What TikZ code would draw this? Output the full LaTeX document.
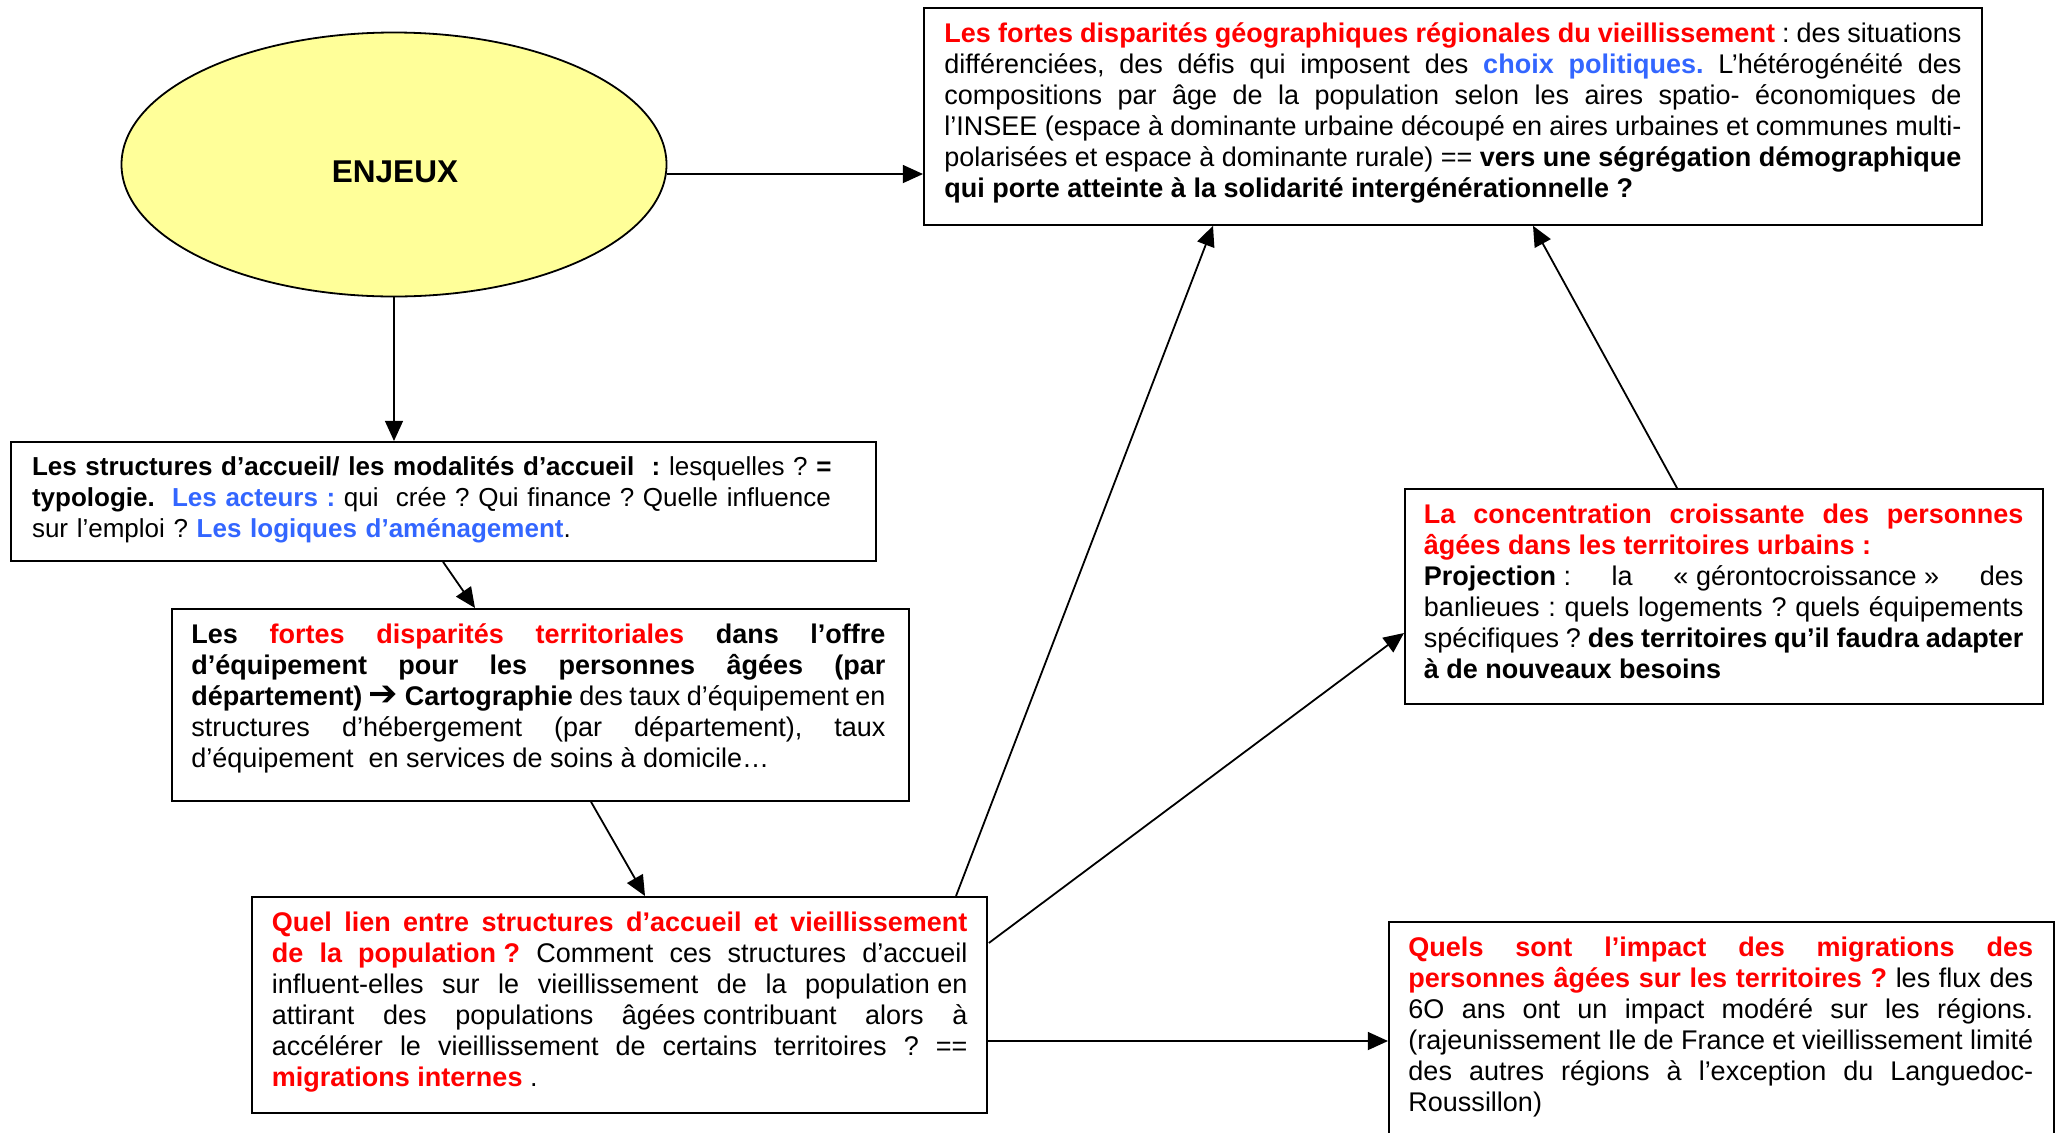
\documentclass[tikz,border=0pt]{standalone}
\usepackage{fontspec}
\setmainfont{Liberation Sans}
\newfontfamily\dejavu{DejaVu Sans}
\usetikzlibrary{shapes.geometric,arrows.meta,calc}
\newcommand\pxu{0.4444pt}
\definecolor{myred}{RGB}{255,0,0}
\definecolor{myblue}{RGB}{51,102,255}
\definecolor{elly}{RGB}{255,255,153}
\newcommand\rb[1]{\textcolor{myred}{\textbf{#1}}}
\newcommand\bb[1]{\textcolor{myblue}{\textbf{#1}}}
\newcommand\nbs{\kern0.278em}
\frenchspacing
\tikzset{
  boxnode/.style={draw, line width=0.8pt, rectangle, inner sep=0pt, anchor=north west},
  txt/.style={anchor=base west, inner sep=0pt, align=justify,
    font=\fontsize{12pt}{13.8pt}\selectfont,
    execute at begin node={\frenchspacing\tolerance=10000\hyphenpenalty=10000\exhyphenpenalty=10000}},
  txtl/.style={txt, align=left, font=\fontsize{11.55pt}{13.8pt}\selectfont},
  arr/.style={line width=0.8pt, -{Triangle[length=9pt,width=8pt]}},
}
\begin{document}
\begin{tikzpicture}[x=\pxu, y=-\pxu]
\useasboundingbox (0,0) rectangle (2062,1132);
\clip (0,0) rectangle (2062,1132);

% ellipse
\node[ellipse, draw, line width=0.8pt, fill=elly, minimum width=545*\pxu, minimum height=264*\pxu, inner sep=0pt] (E) at (394,164.5) {};
\node[font=\fontsize{14pt}{16pt}\selectfont\bfseries, inner sep=0pt] (Et) at (395,171.5) {ENJEUX};

% boxes
\node[boxnode, minimum width=1058*\pxu, minimum height=217*\pxu] (T) at (923,7) {};
\node[boxnode, minimum width=865*\pxu, minimum height=119*\pxu] (S) at (10,441) {};
\node[boxnode, minimum width=737*\pxu, minimum height=192*\pxu] (D) at (171,608) {};
\node[boxnode, minimum width=735*\pxu, minimum height=216*\pxu] (Q) at (251,896) {};
\node[boxnode, minimum width=638*\pxu, minimum height=215*\pxu] (C) at (1404,488) {};
\node[boxnode, minimum width=665*\pxu, minimum height=240*\pxu] (M) at (1388,921) {};

% texts
\node[txt, text width=1017*\pxu] (Tt) at (944,42) {%
\rb{Les fortes disparités géographiques régionales du vieillissement} : des situations\linebreak
différenciées, des défis qui imposent des \bb{choix politiques.} L’hétérogénéité des\linebreak
compositions par âge de la population selon les aires spatio- économiques de\linebreak
l’INSEE (espace à dominante urbaine découpé en aires urbaines et communes multi-\linebreak
polarisées et espace à dominante rurale) == \textbf{vers une ségrégation démographique}\\
\textbf{qui porte atteinte à la solidarité intergénérationnelle ?}};

\node[txtl, text width=840*\pxu] (St) at (31.6,475) {%
\textbf{Les structures d’accueil/ les modalités d’accueil~ :} lesquelles ? \textbf{=}\\
\textbf{typologie.}~ \bb{Les acteurs :} qui~ crée ? Qui finance ? Quelle influence\\
sur l’emploi ? \bb{Les logiques d’aménagement}.};

\node[txt, text width=694*\pxu] (Dt) at (191,643) {%
\textbf{Les \textcolor{myred}{fortes disparités territoriales} dans l’offre\linebreak
d’équipement pour les personnes âgées (par\linebreak
département) {\dejavu\bfseries\scalebox{1.3}{➔}} Cartographie} des taux d’équipement en\linebreak
structures d’hébergement (par département), taux\linebreak
d’équipement~ en services de soins à domicile…};

\node[txt, text width=695.5*\pxu] (Qt) at (271.5,931) {%
\rb{Quel lien entre structures d’accueil et vieillissement}\linebreak
\rb{de la population\nbs?} Comment ces structures d’accueil\linebreak
influent-elles sur le vieillissement de la population\nbs en\linebreak
attirant des populations âgées\nbs contribuant alors à\linebreak
accélérer le vieillissement de certains territoires ? ==\linebreak
\rb{migrations internes} .};

\node[txt, text width=599.5*\pxu] (Ct) at (1423.5,523) {%
\rb{La concentration croissante des personnes}\linebreak
\rb{âgées dans les territoires urbains :}\\
\textbf{Projection}\nbs: la «\nbs gérontocroissance\nbs» des\linebreak
banlieues : quels logements ? quels équipements\linebreak
spécifiques ? \textbf{des territoires qu’il faudra adapter}\linebreak
\textbf{à de nouveaux besoins}};

\node[txt, text width=624.7*\pxu] (Mt) at (1408,956) {%
\rb{Quels sont l’impact des migrations des}\linebreak
\rb{personnes âgées sur les territoires ?} les flux des\linebreak
6O ans ont un impact modéré sur les régions.\linebreak
(rajeunissement Ile de France et vieillissement limité\linebreak
des autres régions à l’exception du Languedoc-\linebreak
Roussillon)};

% connectors
\draw[arr] (E.-2.4) -- (E.-2.4 -| T.west);
\draw[arr] (E.south) -- (E.south |- S.north);
\draw[arr] ($(S.south west)+(433,0)$) -- ($(D.north west)+(304,0)$);
\draw[arr] ($(D.south west)+(420,0)$) -- ($(Q.north west)+(394,0)$);
\draw[arr] ($(Q.north west)+(705,0)$) -- ($(T.south west)+(290,0)$);
\draw[arr] ($(C.north west)+(273,0)$) -- ($(T.south west)+(610,0)$);
\draw[arr] ($(Q.north east)+(1,47)$) -- ($(C.north west)+(0,145)$);
\coordinate (q2) at ($(Q.north east)+(0,145)$);
\draw[arr] (q2) -- (q2 -| M.west);
\end{tikzpicture}
\end{document}
